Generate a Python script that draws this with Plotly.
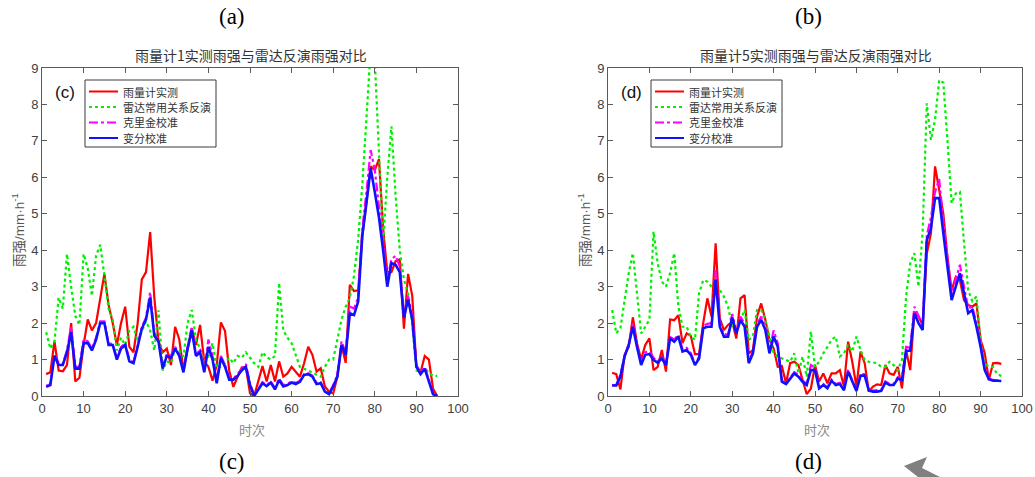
import plotly.graph_objects as go

# ---- data: hourly steps 1..95 ----
steps = list(range(1, 96))

# gauge 1
g1_gauge = [0.6, 0.65, 1.5, 0.7, 0.68, 0.85, 2.0, 0.4, 0.5, 1.4,
            2.1, 1.8, 2.0, 2.7, 3.35, 2.5, 2.0, 1.4, 2.0, 2.45,
            1.35, 1.2, 2.0, 3.2, 3.4, 4.5, 2.7, 1.5, 1.2, 1.3,
            0.85, 1.9, 1.55, 0.72, 1.25, 1.85, 1.4, 1.95, 0.95, 0.8,
            0.42, 0.85, 2.02, 1.78, 0.7, 0.25, 0.52, 0.78, 0.8, 0.07,
            0.0, 0.44, 0.82, 0.4, 0.85, 0.4, 0.95, 0.53, 0.62, 0.8,
            0.67, 0.53, 0.9, 1.35, 1.13, 0.67, 0.76, 0.26, 0.12, 0.07,
            0.53, 1.4, 0.91, 3.05, 2.88, 2.9, 4.4, 5.4, 6.3, 6.2,
            6.5, 4.6, 3.4, 3.4, 3.7, 3.75, 1.85, 3.35, 2.75, 0.8,
            0.65, 1.1, 1.0, 0.2, 0.0]
g1_radar = [1.75, 1.3, 1.5, 2.7, 2.4, 3.9, 3.0, 2.2, 1.95, 3.9,
            3.5, 2.75, 3.85, 4.15, 3.3, 2.4, 2.1, 1.25, 1.6, 1.4,
            1.8, 1.9, 1.5, 1.8, 2.05, 1.8, 1.25, 2.35, 0.7, 0.95,
            0.9, 1.3, 1.26, 1.08, 2.0, 2.36, 1.54, 1.3, 0.95, 1.08,
            1.45, 0.76, 0.8, 0.9, 1.05, 0.9, 1.1, 1.05, 1.2, 1.05,
            0.9, 0.8, 1.2, 1.07, 1.0, 1.1, 3.1, 1.8, 1.6, 1.45,
            1.1, 0.8, 0.75, 0.7, 0.65, 0.6, 0.53, 0.8, 1.0, 1.0,
            1.6, 2.1, 2.45, 2.7, 3.3, 4.3, 5.8, 7.7, 9.5, 9.2,
            6.5, 4.2, 6.0, 7.4, 5.5, 4.0, 3.2, 2.8, 2.0, 0.7,
            0.65, 0.75, 0.65, 0.55, 0.55]
g1_kriging = [0.28, 0.32, 1.15, 0.9, 0.88, 1.25, 1.9, 0.8, 0.8, 1.55,
              1.5, 1.3, 1.6, 2.05, 2.05, 1.45, 1.42, 1.05, 1.35, 1.45,
              1.0, 0.92, 1.4, 1.9, 2.15, 2.85, 1.7, 1.55, 0.8, 1.15,
              1.1, 1.35, 1.15, 0.7, 1.35, 1.9, 1.15, 1.25, 0.7, 1.55,
              1.1, 0.4, 1.1, 0.85, 0.5, 0.48, 0.6, 0.75, 0.88, 0.35,
              0.02, 0.2, 0.38, 0.3, 0.4, 0.22, 0.48, 0.3, 0.33, 0.4,
              0.36, 0.42, 0.6, 0.62, 0.56, 0.36, 0.38, 0.15, 0.07, 0.3,
              0.58, 1.5, 1.2, 2.45, 2.4, 2.7, 4.6, 5.6, 6.75, 6.2,
              5.2, 4.2, 3.2, 3.75, 3.85, 3.55, 2.25, 2.75, 2.2, 0.85,
              0.65, 0.8, 0.45, 0.08, 0.0]
g1_variational = [0.25, 0.3, 1.1, 0.85, 0.85, 1.2, 1.75, 0.75, 0.75, 1.45,
                  1.45, 1.25, 1.55, 2.0, 2.0, 1.4, 1.4, 1.0, 1.3, 1.4,
                  0.95, 0.9, 1.35, 1.85, 2.1, 2.7, 1.65, 1.5, 0.75, 1.1,
                  1.05, 1.3, 1.1, 0.65, 1.3, 1.8, 1.1, 1.2, 0.65, 1.35,
                  1.0, 0.35, 1.05, 0.8, 0.45, 0.45, 0.55, 0.7, 0.8, 0.3,
                  0.0, 0.16, 0.35, 0.27, 0.37, 0.18, 0.44, 0.26, 0.3, 0.37,
                  0.33, 0.39, 0.58, 0.6, 0.53, 0.33, 0.35, 0.12, 0.05, 0.26,
                  0.53, 1.4, 1.13, 2.27, 2.22, 2.59, 4.4, 5.3, 6.25, 5.6,
                  4.9, 4.0, 3.0, 3.65, 3.6, 3.4, 2.15, 2.65, 2.1, 0.8,
                  0.6, 0.75, 0.4, 0.05, 0.0]

# gauge 5
g5_gauge = [0.64, 0.6, 0.18, 1.13, 1.35, 2.16, 1.45, 1.0, 1.4, 1.58,
            0.71, 0.8, 1.26, 0.67, 2.1, 2.08, 2.22, 1.45, 1.72, 1.65,
            1.15, 1.15, 2.0, 2.68, 2.18, 4.19, 2.13, 1.81, 1.95, 2.04,
            1.58, 2.68, 2.77, 1.17, 1.26, 2.18, 2.54, 2.09, 1.54, 1.31,
            0.8, 0.82, 0.35, 0.9, 0.94, 0.85, 0.44, 0.05, 0.2, 0.85,
            0.4, 0.62, 0.35, 0.62, 0.62, 0.71, 0.26, 1.49, 0.94, 0.26,
            1.22, 0.9, 0.12, 0.26, 0.32, 0.3, 0.85, 0.62, 0.58, 0.8,
            0.21, 1.26, 0.71, 2.31, 2.18, 1.95, 3.9, 4.46, 6.3, 5.65,
            5.0, 3.8, 2.9, 3.27, 3.18, 2.63, 2.5, 2.45, 2.54, 1.54,
            1.17, 0.44, 0.9, 0.91, 0.88]
g5_radar = [2.36, 1.72, 1.86, 2.63, 3.37, 3.92, 2.73, 1.72, 1.9, 2.09,
            4.51, 3.64, 3.14, 3.0, 3.37, 3.92, 2.45, 1.9, 1.9, 1.63,
            1.54, 2.82, 3.18, 3.14, 3.0, 2.96, 2.91, 2.73, 2.45, 1.9,
            1.81, 2.09, 2.36, 1.54, 1.63, 2.36, 2.36, 2.09, 1.63, 1.17,
            1.08, 1.03, 0.99, 0.94, 1.17, 0.62, 1.08, 0.53, 1.77, 0.8,
            0.94, 1.17, 1.35, 1.54, 1.63, 1.08, 1.17, 1.4, 1.22, 1.63,
            1.26, 0.99, 0.94, 0.91, 0.9, 0.8, 0.8, 0.94, 0.85, 0.71,
            0.99, 2.73, 3.64, 3.92, 3.0, 4.5, 8.03, 7.03, 7.58, 8.67,
            8.6, 7.0, 5.29, 5.56, 5.6, 4.2, 2.9, 2.6, 2.73, 1.5,
            0.9, 0.8, 0.8, 0.6, 0.55]
g5_kriging = [0.3, 0.3, 0.58, 1.1, 1.42, 2.0, 1.4, 0.9, 1.2, 1.22,
              1.05, 0.95, 1.08, 0.88, 1.62, 1.55, 1.68, 1.28, 1.32, 1.18,
              0.88, 1.08, 1.92, 1.98, 2.0, 3.45, 1.98, 1.7, 1.68, 2.25,
              1.78, 2.18, 1.98, 0.95, 1.22, 1.98, 2.18, 1.9, 1.25, 1.8,
              1.45, 0.42, 0.36, 0.52, 0.65, 0.58, 0.43, 0.33, 0.85, 0.78,
              0.24, 0.33, 0.24, 0.45, 0.33, 0.36, 0.2, 0.72, 0.42, 0.18,
              0.6, 0.6, 0.18, 0.15, 0.15, 0.17, 0.4, 0.33, 0.33, 0.52,
              0.48, 1.35, 1.32, 2.45, 2.2, 1.95, 4.4, 4.9, 5.6, 5.95,
              4.8, 3.7, 2.8, 3.2, 3.6, 3.0, 2.4, 2.45, 2.0, 1.4,
              0.75, 0.48, 0.44, 0.43, 0.42]
g5_variational = [0.29, 0.29, 0.53, 1.08, 1.4, 1.9, 1.35, 0.85, 1.13, 1.15,
                  0.99, 0.91, 1.03, 0.85, 1.58, 1.49, 1.63, 1.22, 1.26, 1.13,
                  0.85, 1.03, 1.86, 1.9, 1.9, 3.2, 1.9, 1.63, 1.63, 2.16,
                  1.72, 2.09, 1.9, 0.9, 1.17, 1.9, 2.09, 1.81, 1.17, 1.63,
                  1.35, 0.39, 0.33, 0.48, 0.62, 0.53, 0.39, 0.3, 0.71, 0.71,
                  0.21, 0.3, 0.21, 0.42, 0.3, 0.33, 0.16, 0.67, 0.39, 0.14,
                  0.56, 0.56, 0.15, 0.12, 0.12, 0.14, 0.37, 0.3, 0.3, 0.48,
                  0.44, 1.24, 1.24, 2.27, 2.0, 1.81, 4.28, 4.6, 5.43, 5.43,
                  4.46, 3.46, 2.63, 3.0, 3.37, 2.82, 2.27, 2.36, 1.9, 1.35,
                  0.71, 0.46, 0.42, 0.42, 0.41]

series_names = ["雨量计实测", "雷达常用关系反演", "克里金校准", "变分校准"]
titles = ["雨量计1实测雨强与雷达反演雨强对比", "雨量计5实测雨强与雷达反演雨强对比"]
inner_tags = ["(c)", "(d)"]
top_tags = ["(a)", "(b)"]
bottom_tags = ["(c)", "(d)"]
x_ticks = [0, 10, 20, 30, 40, 50, 60, 70, 80, 90, 100]
y_ticks = [0, 1, 2, 3, 4, 5, 6, 7, 8, 9]

W, H = 1035, 477
CJK = "Noto Sans CJK SC, sans-serif"
SANS = "Liberation Sans, Arial, Noto Sans CJK SC"
SERIF = "Liberation Serif, Times New Roman, serif"


def px(x):
    return x / W


def py(y):
    return 1 - y / H


styles = [
    dict(color="#ff0000", width=2.2, dash="solid"),
    dict(color="#00ee00", width=2.2, dash="dot"),
    dict(color="#ff00ff", width=2.2, dash="dashdot"),
    dict(color="#1010ff", width=2.6, dash="solid"),
]

panels = [
    dict(data=[g1_gauge, g1_radar, g1_kriging, g1_variational],
         x0=42, x1=458, xa="x", ya="y"),
    dict(data=[g5_gauge, g5_radar, g5_kriging, g5_variational],
         x0=608, x1=1022, xa="x2", ya="y2"),
]
plot_top, plot_bottom = 68, 396

fig = go.Figure()
for p in panels:
    for name, vals, st in zip(series_names, p["data"], styles):
        fig.add_trace(go.Scatter(
            x=steps, y=vals, name=name, mode="lines",
            line=st, xaxis=p["xa"], yaxis=p["ya"], showlegend=False,
        ))

axis_common = dict(
    showline=True, linecolor="#5a5a5a", linewidth=1, mirror="ticks",
    ticks="inside", ticklen=5, tickcolor="#5a5a5a", showgrid=False,
    zeroline=False, tickfont=dict(family=SANS, size=13, color="#404040"),
)

layout = dict(
    width=W, height=H,
    margin=dict(l=0, r=0, t=0, b=0, autoexpand=False),
    paper_bgcolor="white", plot_bgcolor="white", showlegend=False,
    font=dict(family=SANS),
)
for i, p in enumerate(panels):
    sfx = "" if i == 0 else str(i + 1)
    layout["xaxis" + sfx] = dict(
        axis_common, domain=[px(p["x0"]), px(p["x1"])], range=[0, 100],
        tickvals=x_ticks, anchor="y" + sfx,
    )
    layout["yaxis" + sfx] = dict(
        axis_common, domain=[py(plot_bottom), py(plot_top)], range=[0, 9],
        tickvals=y_ticks, anchor="x" + sfx,
    )
fig.update_layout(**layout)

annotations = []
shapes = []


def label(text, x, y, size, family, color, **kw):
    d = dict(text=text, x=px(x), y=py(y), xref="paper", yref="paper",
             showarrow=False, xanchor="center", yanchor="middle",
             font=dict(family=family, size=size, color=color))
    d.update(kw)
    annotations.append(d)


for i, p in enumerate(panels):
    cx = (p["x0"] + p["x1"]) / 2
    label(titles[i], cx + 1, 55, 14, CJK, "#333")
    label(inner_tags[i], p["x0"] + 23, 92, 17, SANS, "#111")
    label("雨强/mm·h<sup>-1</sup>", p["x0"] - 24, 230, 13.5, SANS, "#555",
          textangle=-90)
    label("时次", cx + 2, 429, 13, CJK, "#888")

    # legend box with line samples and entry names
    lx0 = p["x0"] + 43
    lx1 = lx0 + 131
    shapes.append(dict(type="rect", xref="paper", yref="paper",
                       x0=px(lx0), x1=px(lx1), y0=py(147), y1=py(80),
                       fillcolor="white", line=dict(color="#3a3a3a", width=1)))
    for k, (name, st) in enumerate(zip(series_names, styles)):
        row_y = 91.5 + 15.5 * k
        shapes.append(dict(type="line", xref="paper", yref="paper",
                           x0=px(lx0 + 4), x1=px(lx0 + 33), y0=py(row_y), y1=py(row_y),
                           line=dict(color=st["color"], width=2, dash=st["dash"])))
        label(name, lx0 + 36, row_y, 11, CJK, "#333", xanchor="left")

for tag, cx in zip(top_tags, [232, 808]):
    label(tag, cx, 17, 23, SERIF, "#000")
for tag, cx in zip(bottom_tags, [232, 808]):
    label(tag, cx, 461, 23, SERIF, "#000")

# grey pointer arrow near the lower right
arrow_pts = [(904, 466), (927, 457), (922, 468), (940, 477), (918, 477)]
path = "M " + " L ".join(f"{px(a):.5f},{py(b):.5f}" for a, b in arrow_pts) + " Z"
shapes.append(dict(type="path", path=path, xref="paper", yref="paper",
                   fillcolor="#808080", line=dict(width=0)))

fig.update_layout(annotations=annotations, shapes=shapes)
fig.write_html("out.html")
